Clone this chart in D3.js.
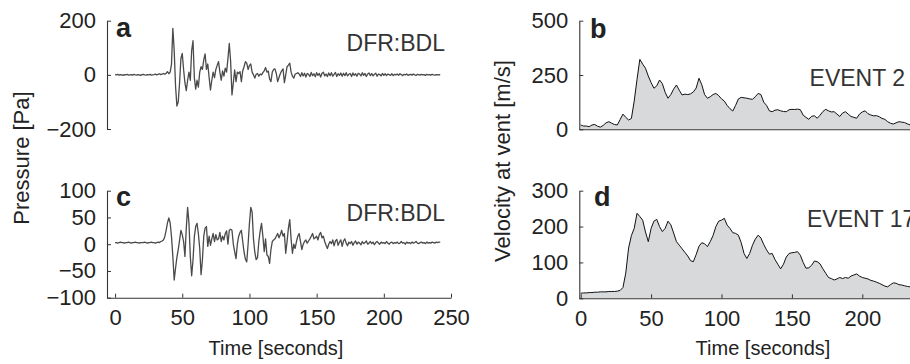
<!DOCTYPE html>
<html>
<head>
<meta charset="utf-8">
<script src="https://cdn.jsdelivr.net/npm/d3@7"></script>
<style>
  body { margin: 0; background: #fff; }
  svg { display: block; font-family: "Liberation Sans", Arial, Helvetica, sans-serif; }
</style>
</head>
<body>
<svg id="chart" width="910" height="364"></svg>
<script>
// infrasound pressure at DFR:BDL, one sample per second from t = 0
const pressureA = [
  1, 0, 2, -1, 1, 0, -2, 1, 0, 2,
  -1, 0, 1, -1, 2, 0, -1, 1, 0, -2,
  1, 2, 0, -1, 1, 0, 2, -1, 0, 1,
  3, 0, 2, 4, 1, 3, 5, 2, 6, 12,
  4, 10, 40, 172, 90, -40, -115, -100, -30, 60,
  79, 20, -30, -58, -20, 10, -20, 90, 126, -10,
  -53, -20, -45, 10, 30, 20, 55, 77, 20, 40,
  -10, -56, -20, 10, -10, 20, 35, 49, 10, -20,
  15, -5, 25, 10, 60, 116, 50, -74, -30, 18,
  -25, 10, 5, 12, -25, 15, 30, 49, 43, 20,
  35, 40, 10, 0, -12, 2, 5, -5, 3, 0,
  8, 15, 27, 10, 14, -15, -25, 10, 20, 22,
  5, -25, -10, 5, 15, 22, -29, 0, 30, 36,
  43, 10, -5, -12, 2, 5, 8, 3, -6, 8,
  -4, 6, -8, 5, 2, -6, 9, -3, 4, -7,
  8, -2, 5, -8, 6, 10, -4, 3, -6, 7,
  -3, 8, -5, 2, 9, -6, 4, -2, 7, -5,
  6, -3, 8, -4, 2, 5, -6, 7, -2, 4,
  -5, 6, 3, -4, 8, -2, 5, -6, 3, 7,
  -3, 5, -4, 2, 6, -5, 3, 1, -4, 5,
  -2, 4, -3, 3, 1, -2, 4, -3, 2, 0,
  3, -2, 4, 1, -3, 2, 0, 3, -2, 1,
  2, -1, 3, 0, -2, 2, 1, -1, 2, 0,
  1, -2, 2, 0, 1, -1, 2, 0, -1, 1,
  0, 1, 0
];
const pressureC = [
  3, 3, 2, 3, 4, 3, 3, 2, 3, 3,
  4, 3, 2, 3, 3, 4, 3, 3, 2, 3,
  3, 3, 4, 3, 2, 3, 3, 4, 3, 3,
  2, 3, 4, 3, 5, 6, 8, 14, 26, 40,
  49, 40, 14, -23, -67, -45, -25, -10, 7, 26,
  18, 5, -23, 30, 69, 39, -23, -59, -30, 14,
  33, 39, 20, -8, -57, -30, 15, 30, 33, -4,
  15, -2, 10, 20, 5, 18, 8, 10, 22, 5,
  15, 8, 20, 25, 0, 26, 28, 26, 0, -14,
  -27, 0, 15, 22, 26, 5, -15, -28, -33, 0,
  39, 69, 60, 10, -15, -29, -25, 5, 25, 39,
  15, -14, 10, -20, -23, -36, -10, 5, 8, 10,
  15, 20, 12, 18, 26, 15, 20, -17, 5, 30,
  46, 10, -17, 0, -8, 5, 15, 20, 5, -10,
  0, 5, 8, 2, 6, 10, 15, 20, 10, 12,
  15, 8, 18, 22, 12, 15, 5, -2, -8, 0,
  5, 1, 8, -3, 6, 9, -2, 4, 8, -4,
  6, 10, 2, -3, 4, 1, 5, -2, 3, 6,
  0, 4, 2, -1, 5, 1, 3, 6, 0, 2,
  5, 1, 4, -1, 3, 5, 2, 0, 4, 2,
  3, 1, 5, 2, 0, 3, 4, 1, 3, 2,
  4, 1, 2, 5, 2, 3, 0, 4, 2, 3,
  1, 4, 2, 3, 5, 2, 1, 3, 4, 2,
  3, 1, 4, 2, 3, 2, 4, 3, 2, 4,
  3, 4, 4
];
// velocity at vent, one sample every 2 seconds from t = 0
const velocityB = [
  20, 15, 15, 12, 20, 22, 14, 10, 18, 30,
  35, 28, 22, 20, 45, 70, 55, 43, 50, 130,
  230, 322, 300, 281, 245, 215, 189, 200, 227, 210,
  170, 143, 160, 185, 204, 180, 158, 162, 160, 163,
  172, 190, 235, 205, 160, 143, 150, 160, 165, 155,
  140, 130, 110, 95, 84, 110, 140, 147, 145, 143,
  140, 138, 150, 165, 160, 125, 110, 85, 81, 88,
  90, 85, 82, 81, 90, 92, 91, 93, 90, 65,
  55, 46, 60, 62, 51, 65, 82, 92, 85, 80,
  81, 70, 59, 75, 81, 70, 59, 55, 51, 70,
  80, 85, 72, 66, 62, 63, 58, 50, 46, 35,
  28, 24, 30, 35, 33, 31, 25, 20, 18, 16,
  15
];
const velocityD = [
  14, 15, 15, 16, 16, 17, 17, 18, 18, 18,
  19, 19, 19, 20, 22, 30, 70, 140, 175, 195,
  237, 228, 218, 185, 158, 195, 215, 220, 200, 186,
  195, 215, 205, 182, 158, 148, 138, 128, 118, 105,
  102, 122, 145, 155, 152, 144, 158, 175, 200, 215,
  218, 223, 204, 195, 183, 181, 176, 155, 125, 111,
  125, 148, 165, 176, 168, 150, 135, 123, 125, 108,
  95, 82, 95, 115, 125, 127, 128, 130, 120, 100,
  84, 85, 92, 104, 102, 96, 82, 70, 58, 55,
  51, 54, 58, 55, 58, 56, 62, 65, 68, 62,
  58, 56, 54, 50, 48, 45, 42, 38, 34, 32,
  38, 43, 42, 38, 37, 35, 33, 32, 31, 30,
  30
];
const pressureStep = 1;
const velocityStep = 2;

const pressureTicksA = [-200, 0, 200];
const pressureTicksC = [-100, -50, 0, 50, 100];
const velocityTicksB = [0, 250, 500];
const velocityTicksD = [0, 100, 200, 300];
const timeTicksLeft = [0, 50, 100, 150, 200, 250];
const timeTicksRight = [0, 50, 100, 150, 200];

const ink = '#222';
const traceColor = '#4a4a4a';
const fillColor = '#d8d9db';

const svg = d3.select('#chart');

const xLeft = d3.scaleLinear().domain([-6, 250]).range([107, 451]);
const xRight = d3.scaleLinear().domain([-1, 250]).range([579.3, 932.7]);

const yA = d3.scaleLinear().domain([-200, 200]).range([129, 20.7]);
const yC = d3.scaleLinear().domain([-100, 100]).range([297.7, 190.7]);
const yB = d3.scaleLinear().domain([0, 500]).range([129.3, 20.7]);
const yD = d3.scaleLinear().domain([0, 300]).range([298.3, 190.7]);

function styleAxis(g) {
  g.attr('font-size', null).attr('font-family', null);
  g.select('.domain').attr('stroke', '#333').attr('stroke-width', 1.1);
  g.selectAll('.tick line').attr('stroke', '#333');
  g.selectAll('.tick text').attr('fill', ink).style('font-size', '22px');
}

function drawYAxis(scale, x, ticks) {
  svg.append('g')
    .attr('transform', `translate(${x},0)`)
    .call(d3.axisLeft(scale).tickValues(ticks).tickSizeInner(-4).tickSizeOuter(0).tickPadding(11))
    .call(styleAxis);
}

function drawXAxis(scale, y, ticks) {
  svg.append('g')
    .attr('transform', `translate(0,${y})`)
    .call(d3.axisBottom(scale).tickValues(ticks).tickSizeInner(-4).tickSizeOuter(0).tickPadding(12))
    .call(styleAxis);
}

function drawTrace(values, step, x, y) {
  const line = d3.line()
    .x((d, i) => x(i * step))
    .y(d => y(d));
  svg.append('path')
    .datum(values)
    .attr('fill', 'none')
    .attr('stroke', traceColor)
    .attr('stroke-width', 1.3)
    .attr('stroke-linejoin', 'round')
    .attr('d', line);
}

function drawVelocity(values, step, x, y) {
  const area = d3.area()
    .x((d, i) => x(i * step))
    .y0(y(0))
    .y1(d => y(d));
  const line = d3.line()
    .x((d, i) => x(i * step))
    .y(d => y(d));
  svg.append('path').datum(values).attr('fill', fillColor).attr('d', area);
  svg.append('path').datum(values)
    .attr('fill', 'none').attr('stroke', '#111').attr('stroke-width', 1)
    .attr('d', line);
}

// panel a
drawTrace(pressureA, pressureStep, xLeft, yA);
drawYAxis(yA, 107, pressureTicksA);

// panel c
drawTrace(pressureC, pressureStep, xLeft, yC);
drawYAxis(yC, 107, pressureTicksC);
drawXAxis(xLeft, 297.7, timeTicksLeft);

// panel b
drawVelocity(velocityB, velocityStep, xRight, yB);
drawYAxis(yB, 579.3, velocityTicksB);
drawXAxis(xRight, 129.3, []);

// panel d
drawVelocity(velocityD, velocityStep, xRight, yD);
drawYAxis(yD, 579.3, velocityTicksD);
drawXAxis(xRight, 298.3, timeTicksRight);

// panel letters
const letters = [
  { t: 'a', x: 116, y: 37 },
  { t: 'b', x: 590, y: 38 },
  { t: 'c', x: 116, y: 206 },
  { t: 'd', x: 594, y: 206 }
];
svg.selectAll('.panel-letter')
  .data(letters)
  .join('text')
  .attr('class', 'panel-letter')
  .attr('x', d => d.x)
  .attr('y', d => d.y)
  .attr('font-size', 27)
  .attr('font-weight', 'bold')
  .attr('fill', ink)
  .text(d => d.t);

// station / event labels
svg.append('text').attr('x', 445).attr('y', 50.5).attr('text-anchor', 'end')
  .attr('font-size', 23).attr('fill', '#333').text('DFR:BDL');
svg.append('text').attr('x', 445).attr('y', 220.5).attr('text-anchor', 'end')
  .attr('font-size', 23).attr('fill', '#333').text('DFR:BDL');
svg.append('text').attr('x', 905).attr('y', 86).attr('text-anchor', 'end')
  .attr('font-size', 23).attr('fill', '#333').text('EVENT 2');
svg.append('text').attr('x', 807).attr('y', 227).attr('text-anchor', 'start')
  .attr('font-size', 23).attr('fill', '#333').text('EVENT 17');

// axis titles
svg.append('text')
  .attr('transform', 'translate(29,158) rotate(-90)')
  .attr('text-anchor', 'middle')
  .attr('font-size', 22).attr('fill', ink)
  .text('Pressure [Pa]');
svg.append('text')
  .attr('transform', 'translate(510,161) rotate(-90)')
  .attr('text-anchor', 'middle')
  .attr('font-size', 22).attr('fill', ink)
  .text('Velocity at vent [m/s]');
svg.append('text')
  .attr('x', 276).attr('y', 355)
  .attr('text-anchor', 'middle')
  .attr('font-size', 20).attr('fill', ink)
  .text('Time [seconds]');
svg.append('text')
  .attr('x', 763).attr('y', 355)
  .attr('text-anchor', 'middle')
  .attr('font-size', 20).attr('fill', ink)
  .text('Time [seconds]');
</script>
</body>
</html>
